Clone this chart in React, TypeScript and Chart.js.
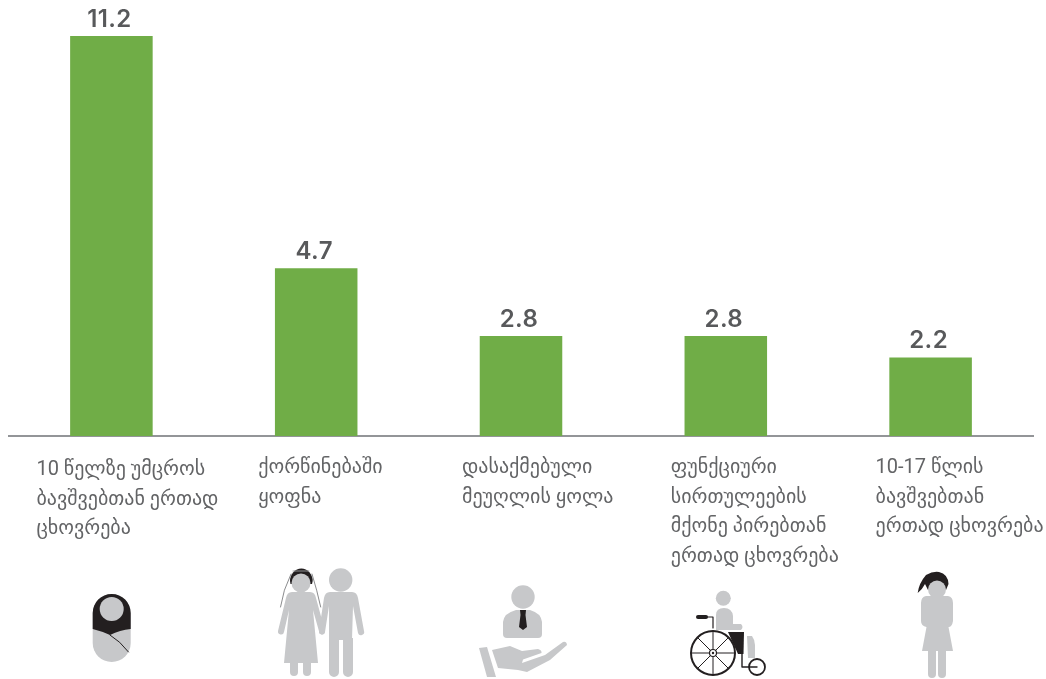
import React, { useEffect, useRef } from "react";
import { Chart, registerables } from "chart.js";

Chart.register(...registerables);

const categories: string[][] = [
  ["10 წელზე უმცროს", "ბავშვებთან ერთად", "ცხოვრება"],
  ["ქორწინებაში", "ყოფნა"],
  ["დასაქმებული", "მეუღლის ყოლა"],
  ["ფუნქციური", "სირთულეების", "მქონე პირებთან", "ერთად ცხოვრება"],
  ["10-17 წლის", "ბავშვებთან", "ერთად ცხოვრება"],
];
const values = [11.2, 4.7, 2.8, 2.8, 2.2];
const labelOffsets = [-75, -58, -59, -55, -55];
const labelTop = [475, 473, 473, 473, 473];

const GREEN = "#70ad47";
const GREY = "#c7c8ca";
const BLACK = "#231f20";
const TEXT = "#58595b";
const LABEL_TEXT = "#636466";
const AXIS = "#939598";
const LABEL_FONT = '400 20px Roboto, "DejaVu Sans", sans-serif';

function fillPath(ctx: CanvasRenderingContext2D, d: string, color: string) {
  ctx.fillStyle = color;
  ctx.fill(new Path2D(d));
}
function strokePath(ctx: CanvasRenderingContext2D, d: string, color: string, w: number, cap: CanvasLineCap = "round") {
  ctx.strokeStyle = color;
  ctx.lineWidth = w;
  ctx.lineCap = cap;
  ctx.lineJoin = "round";
  ctx.stroke(new Path2D(d));
}
function circle(ctx: CanvasRenderingContext2D, x: number, y: number, r: number, color: string) {
  ctx.fillStyle = color;
  ctx.beginPath();
  ctx.arc(x, y, r, 0, Math.PI * 2);
  ctx.fill();
}
function ring(ctx: CanvasRenderingContext2D, x: number, y: number, r: number, color: string, w: number) {
  ctx.strokeStyle = color;
  ctx.lineWidth = w;
  ctx.beginPath();
  ctx.arc(x, y, r, 0, Math.PI * 2);
  ctx.stroke();
}

function drawBaby(ctx: CanvasRenderingContext2D) {
  fillPath(ctx, "M92.7 613 A19 19 0 0 1 130.7 613 L130.7 643 A19 19 0 0 1 92.7 643 Z", GREY);
  fillPath(ctx, "M92.7 629 L92.7 613 A19 19 0 0 1 130.7 613 L130.7 629 Q120 630 110 635 Q101 631 92.7 629 Z", BLACK);
  circle(ctx, 111.7, 609, 12, GREY);
  strokePath(ctx, "M110 635 Q120 641 128.5 652", BLACK, 1);
}
function drawCouple(ctx: CanvasRenderingContext2D) {
  circle(ctx, 340.7, 580, 11.7, GREY);
  fillPath(ctx, "M329 638 L329 672 A5 5 0 0 0 339 672 L339 640 L343 640 L343 672 A5 5 0 0 0 353 672 L353 638 Z", GREY);
  fillPath(ctx, "M330 592 L352 592 Q357 592 358 598 L364 631 A3 3 0 0 1 358 633 L353 606 L352 640 L329 640 L329 606 L325 632 A3 3 0 0 1 319 631 L324 598 Q325 592 330 592 Z", GREY);
  fillPath(ctx, "M290 581 A11.3 12.5 0 0 1 312.7 581 L312 584 L290.5 584 Z", BLACK);
  circle(ctx, 301, 583, 9.5, GREY);
  strokePath(ctx, "M293 571 L309 571", "#9a9b9d", 0.9);
  strokePath(ctx, "M291 574 Q283 590 280.5 607 M312 574 Q317 590 320.7 607", "#58595b", 0.7);
  fillPath(ctx, "M292 592 L310 592 Q315 592 316 598 L325 631 A3 3 0 0 1 319.5 633 L313 610 L318 663 L311 663 L311 672 A4 4 0 0 1 303 672 L303 663 L298 663 L298 672 A4 4 0 0 1 290 672 L290 663 L284 663 L289 610 L284 632 A3 3 0 0 1 278 631 L286 598 Q287 592 292 592 Z", GREY);
}
function drawWorker(ctx: CanvasRenderingContext2D) {
  circle(ctx, 523, 597, 11.7, GREY);
  fillPath(ctx, "M516 610 L530 610 Q541 613 542 622 L542 634 Q542 638 538 638 L507 638 Q503 638 503 634 L503 622 Q504 613 516 610 Z", GREY);
  fillPath(ctx, "M520 610 L526 610 L525.5 615 L527 627 L523 630 L519 627 L520.5 615 Z", BLACK);
  fillPath(ctx, "M479 648 L487 647 L496 677 L487 677 Z", GREY);
  fillPath(ctx, "M492 650 L510 646 L522 651 L538 649 Q542 650 541.5 653 L523 659.5 L522 663 L545 655 L563 642 Q566.5 641 567 645 L550 660 L527 672 L518 670 L498 668 Z", GREY);
}
function drawWheelchair(ctx: CanvasRenderingContext2D) {
  circle(ctx, 723.3, 598.3, 7.5, GREY);
  fillPath(ctx, "M716 630 L716 615 Q716 608 724 608 Q732 608 733 616 L733 624 L741 624 Q744 627 741 630 Z", GREY);
  fillPath(ctx, "M747 636 L752 636 Q755 640 755 645 L755 658 L748 658 Z", GREY);
  fillPath(ctx, "M728 632 L744 632 L743.5 654 L738 654 Z", BLACK);
  strokePath(ctx, "M698 617 L706 617", BLACK, 4);
  strokePath(ctx, "M706 617 L713 617 L713 628", BLACK, 1.2);
  const cx = 713, cy = 653;
  ctx.strokeStyle = BLACK;
  ctx.lineWidth = 1;
  ctx.beginPath();
  for (let i = 0; i < 4; i++) {
    const a = (i * Math.PI) / 4;
    ctx.moveTo(cx - 22 * Math.cos(a), cy - 22 * Math.sin(a));
    ctx.lineTo(cx + 22 * Math.cos(a), cy + 22 * Math.sin(a));
  }
  ctx.stroke();
  ring(ctx, cx, cy, 22, BLACK, 2);
  circle(ctx, cx, cy, 3.5, "#ffffff");
  ring(ctx, cx, cy, 3.5, BLACK, 1.2);
  circle(ctx, cx, cy, 1.2, BLACK);
  ring(ctx, 757, 667, 8, BLACK, 1.8);
  strokePath(ctx, "M742 654 L742 667 L757 667", BLACK, 1.4);
}
function drawGirl(ctx: CanvasRenderingContext2D) {
  fillPath(ctx, "M917.7 593 Q919 583 926 575 Q933 571 939 572 Q948 574 948.5 584 L946 590 L928 590 Q926 586 925 584 Q922 590 917.7 593 Z", BLACK);
  circle(ctx, 937, 589.5, 9, GREY);
  fillPath(ctx, "M926 596 L948 596 Q953 597 953 603 L953 621 Q952 627 948.5 627 L953 651 L946 651 L946 674 A4 4 0 0 1 938 674 L938 651 L936 651 L936 674 A4 4 0 0 1 928 674 L928 651 L922 651 L926.5 627 Q921 626 921 621 L921 603 Q921 597 926 596 Z", GREY);
}

const decorations = {
  id: "decorations",
  afterDraw(chart: Chart) {
    const ctx = chart.ctx as any;
    const x = chart.scales.x;
    const bars = chart.getDatasetMeta(0).data;
    ctx.save();
    ctx.textBaseline = "alphabetic";
    ctx.textAlign = "center";
    ctx.fillStyle = TEXT;
    ctx.font = "600 24px Inter, sans-serif";
    ctx.letterSpacing = "0.4px";
    values.forEach((v, i) => {
      ctx.fillText(v.toFixed(1), bars[i].x - 2, bars[i].y - 9.5);
    });
    ctx.textAlign = "left";
    ctx.fillStyle = LABEL_TEXT;
    ctx.font = LABEL_FONT;
    ctx.letterSpacing = "0px";
    categories.forEach((lines, i) => {
      const left = x.getPixelForTick(i) + labelOffsets[i];
      lines.forEach((line, j) => ctx.fillText(line, left, labelTop[i] + j * 29.5));
    });
    drawBaby(ctx);
    drawCouple(ctx);
    drawWorker(ctx);
    drawWheelchair(ctx);
    drawGirl(ctx);
    ctx.restore();
  },
};

export default function App() {
  const ref = useRef<HTMLCanvasElement>(null);
  useEffect(() => {
    document.body.style.margin = "0";
    const chart = new Chart(ref.current!, {
      type: "bar",
      data: {
        labels: categories.map((c) => c.join(" ")),
        datasets: [
          { data: values, backgroundColor: GREEN, barPercentage: 1, categoryPercentage: 0.403 },
        ],
      },
      options: {
        animation: false,
        responsive: false,
        layout: { padding: { left: 9, right: 13, top: 7.43, bottom: 243 } },
        plugins: { legend: { display: false }, tooltip: { enabled: false } },
        scales: {
          x: {
            afterFit: (s: any) => { s.height = 0; },
            grid: { display: false },
            ticks: { display: false },
            border: { display: true, color: AXIS, width: 2 },
          },
          y: { display: false, min: 0, max: 12 },
        },
      } as any,
      plugins: [decorations],
    });
    return () => chart.destroy();
  }, []);
  return <canvas ref={ref} width={1046} height={679} style={{ display: "block" }} />;
}
